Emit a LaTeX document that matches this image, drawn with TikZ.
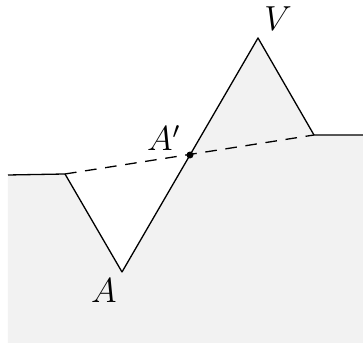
\documentclass[tikz,border=0pt]{standalone}
\usetikzlibrary{calc}
\begin{document}
\begin{tikzpicture}[x=0.345pt,y=-0.345pt,
  edge/.style={line width=0.45pt,line join=round},
  dashline/.style={line width=0.45pt,dash pattern=on 4pt off 3pt},
  lbl/.style={inner sep=0pt,font=\fontsize{11.5}{13}\selectfont}]
\useasboundingbox (0,0) rectangle (363,343);
\coordinate (L) at (8,175);
\coordinate (P1) at (65,174);
\coordinate (A) at (122,272);
\coordinate (V) at (258,38);
\coordinate (P2) at (314,135);
\coordinate (R) at (363,135);
\fill[gray!10] (L) -- (P1) -- (A) -- (V) -- (P2) -- (R) -- (363,343) -- (8,343) -- cycle;
\draw[edge] (L) -- (P1) -- (A) -- (V) -- (P2) -- (R);
\draw[dashline] (P1) -- (P2);
\coordinate (Ap) at ($(A)!0.5!(V)$);
\fill (Ap) circle (1.2pt);
\node[lbl] (la) at (104,291) {$A$};
\node[lbl] (lv) at (278,19) {$V$};
\node[lbl] (lap) at (164,138) {$A'$};
\end{tikzpicture}
\end{document}
